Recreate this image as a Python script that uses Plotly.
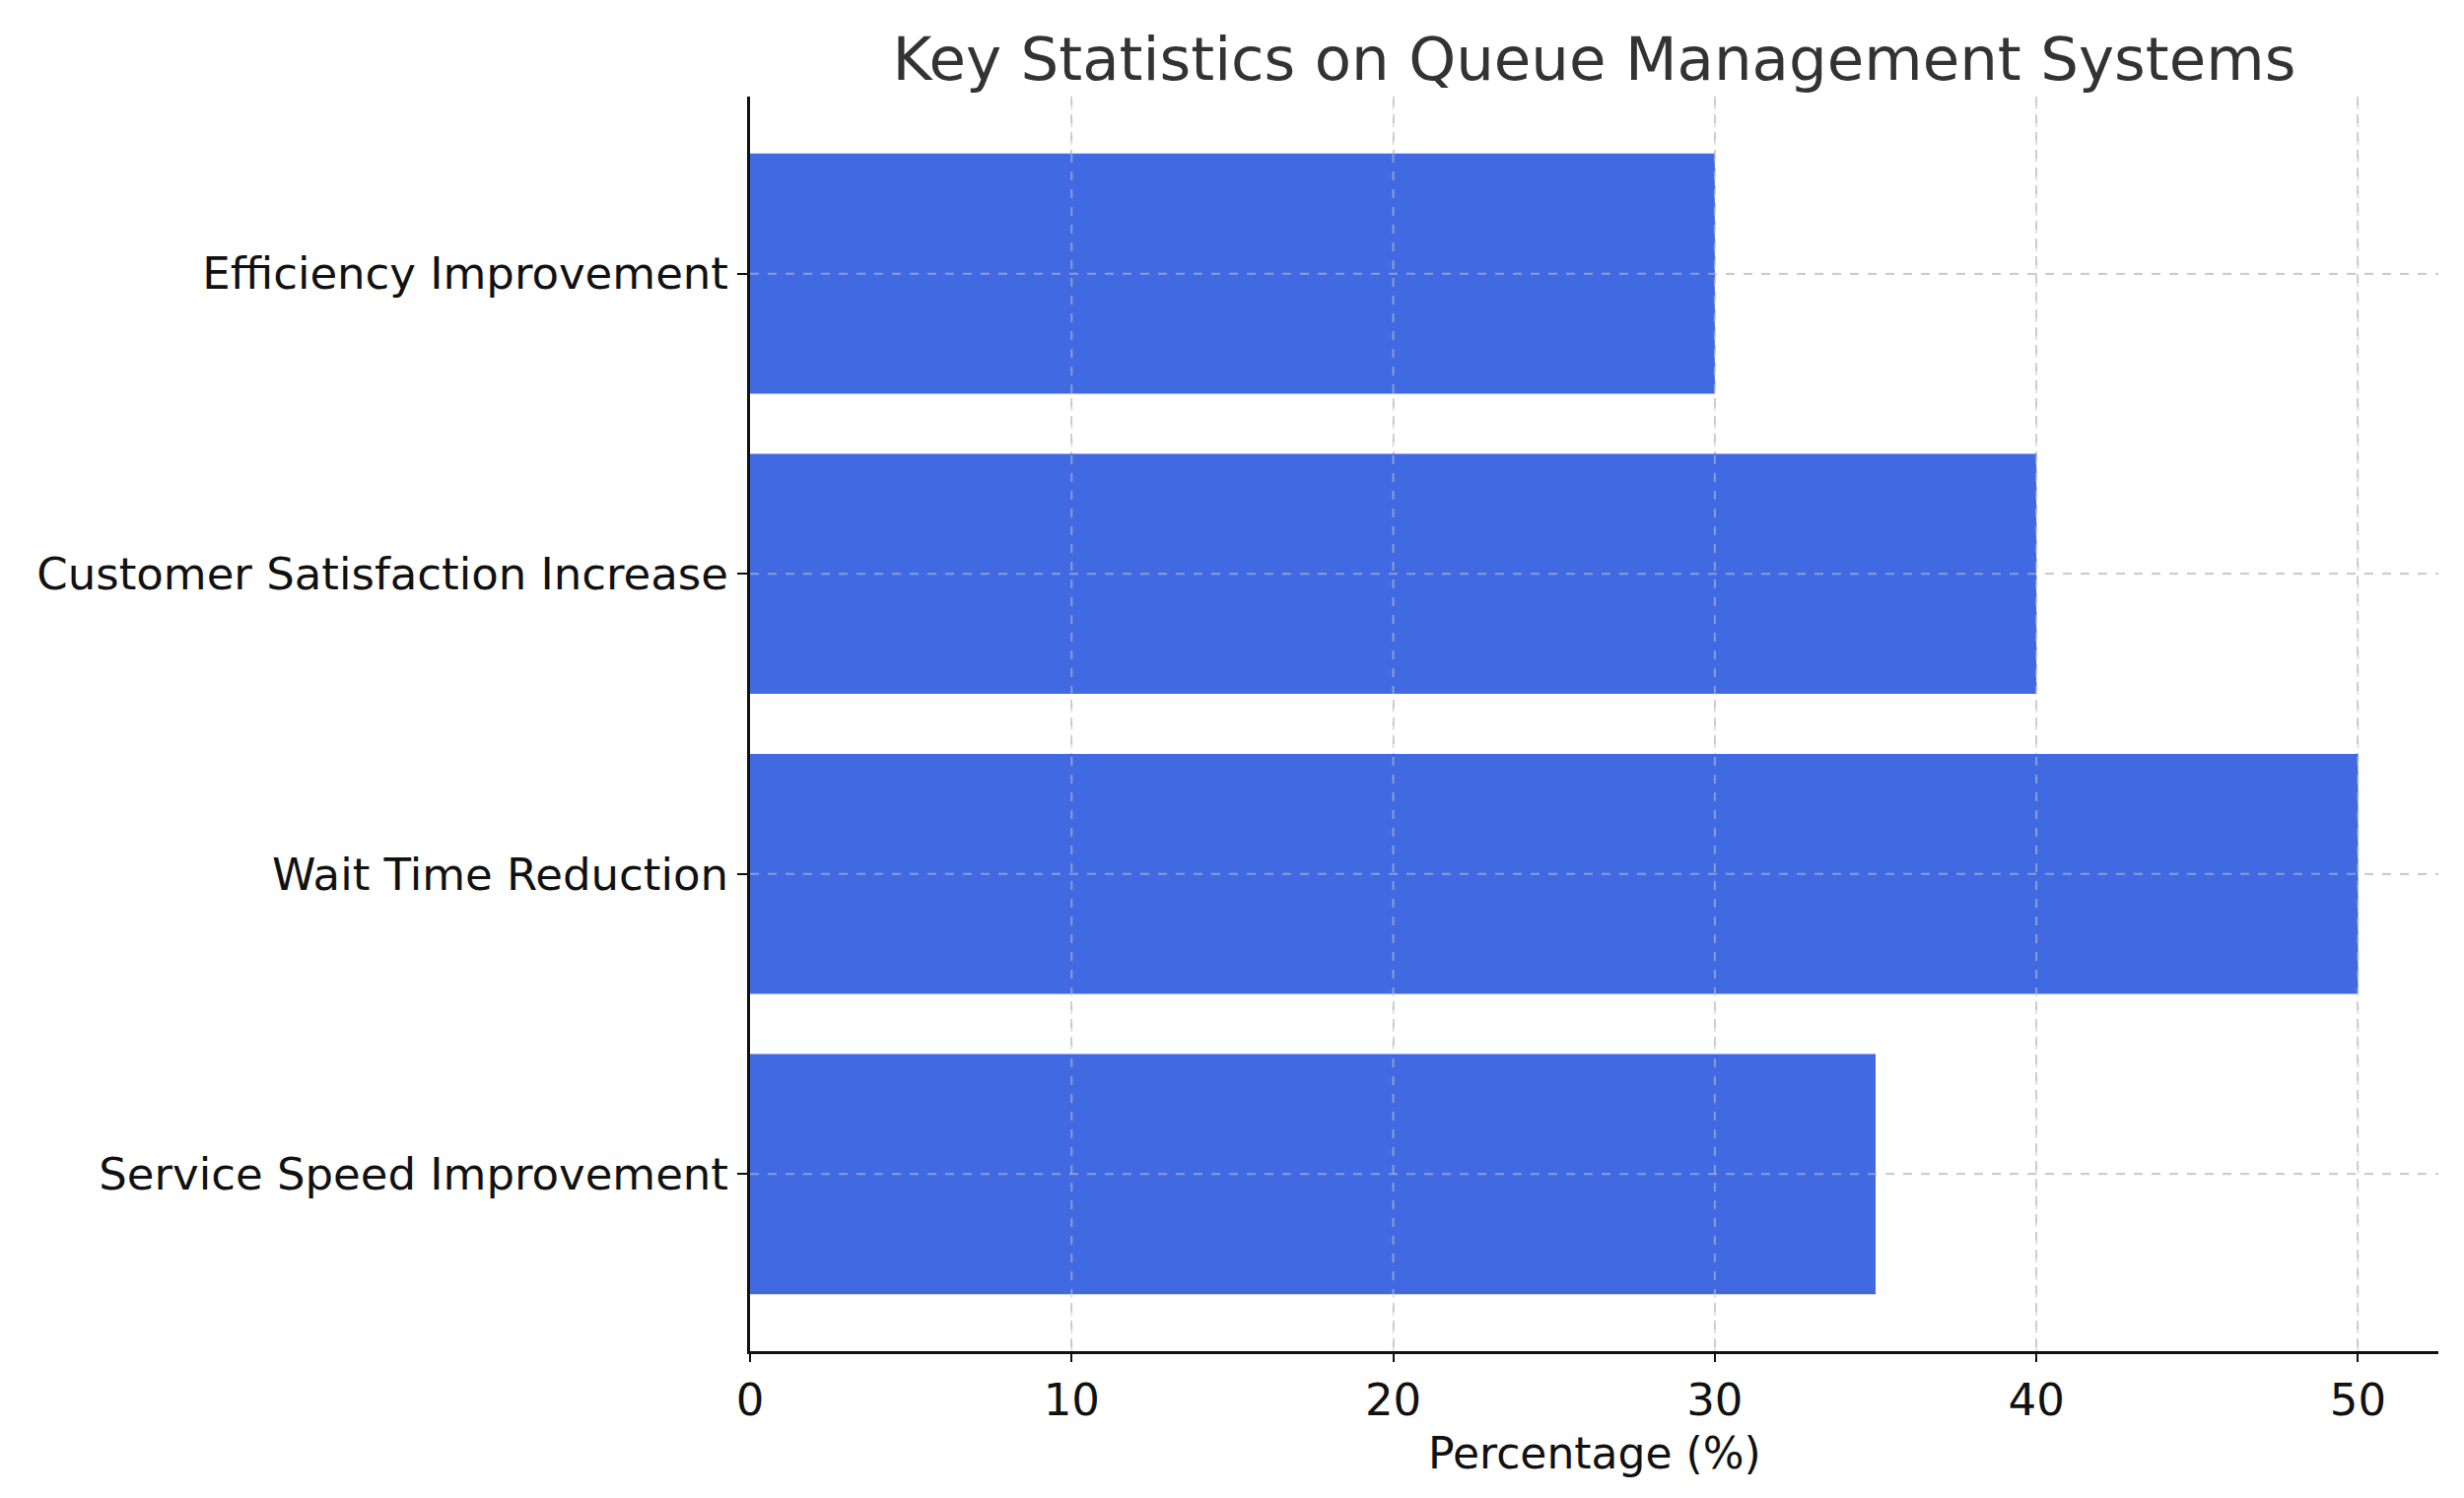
import plotly.graph_objects as go

# ---------- data ----------
categories = [
    "Service Speed Improvement",
    "Wait Time Reduction",
    "Customer Satisfaction Increase",
    "Efficiency Improvement",
]
percentages = [35, 50, 40, 30]
x_ticks = [0, 10, 20, 30, 40, 50]

BAR_COLOR = "#4169E1"
GRID_COLOR = "rgba(150,150,150,0.45)"
FONT = "DejaVu Sans, sans-serif"

fig = go.Figure()
fig.add_trace(
    go.Bar(
        x=percentages,
        y=list(range(len(categories))),
        orientation="h",
        width=0.8,
        marker=dict(color=BAR_COLOR, line=dict(width=0)),
        showlegend=False,
    )
)

# grid drawn on top of the bars, like the original
for xv in x_ticks[1:]:
    fig.add_shape(
        type="line", xref="x", yref="paper", x0=xv, x1=xv, y0=0, y1=1,
        line=dict(color="rgba(200,200,200,0.55)", width=2, dash="dash"),
        layer="above",
    )
for yi in range(len(categories)):
    fig.add_shape(
        type="line", xref="paper", yref="y", x0=0, x1=1, y0=yi, y1=yi,
        line=dict(color="rgba(200,200,200,0.55)", width=2, dash="dash"),
        layer="above",
    )

# x-axis label as an annotation so it sits where the original had it
fig.add_annotation(
    text="Percentage (%)",
    xref="paper", yref="paper", x=0.5, y=-0.081,
    xanchor="center", yanchor="middle", showarrow=False,
    font=dict(family=FONT, size=44, color="#111111"),
)

fig.update_layout(
    title=dict(
        text="Key Statistics on Queue Management Systems",
        font=dict(family=FONT, size=61, color="#333333"),
        x=(753 + 2466) / 2 / 2500,
        xanchor="center",
        y=1 - 52 / 1520,
        yanchor="middle",
    ),
    xaxis=dict(
        range=[0, 52.5],
        tickvals=x_ticks,
        ticks="outside",
        ticklen=8,
        tickwidth=2,
        tickcolor="#111111",
        showline=True,
        linecolor="#111111",
        linewidth=3,
        showgrid=True,
        gridcolor=GRID_COLOR,
        griddash="dash",
        gridwidth=2,
        zeroline=False,
        layer="above traces",
        tickfont=dict(family=FONT, size=45, color="#111111"),
    ),
    yaxis=dict(
        range=[-0.59, 3.59],
        tickvals=list(range(len(categories))),
        ticktext=categories,
        ticks="outside",
        ticklen=10,
        tickwidth=2,
        tickcolor="#111111",
        showline=True,
        linecolor="#111111",
        linewidth=3,
        showgrid=True,
        gridcolor=GRID_COLOR,
        griddash="dash",
        gridwidth=2,
        zeroline=False,
        layer="above traces",
        tickfont=dict(family=FONT, size=45, color="#111111"),
    ),
    plot_bgcolor="white",
    paper_bgcolor="white",
    font=dict(family=FONT),
    margin=dict(l=753, r=34, t=90, b=157, autoexpand=False),
    width=2500,
    height=1520,
)

fig.write_html("out.html")
